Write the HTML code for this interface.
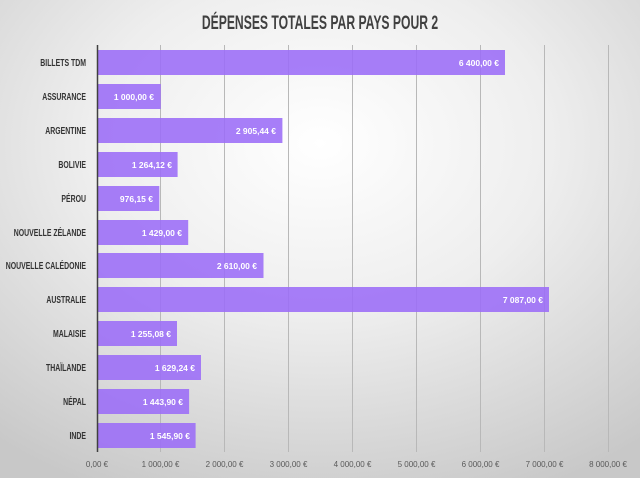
<!DOCTYPE html><html><head><meta charset="utf-8"><style>body{margin:0}svg{display:block}</style></head><body>
<svg width="640" height="478" xmlns="http://www.w3.org/2000/svg" font-family="Liberation Sans, sans-serif">
<defs><radialGradient id="g" cx="50%" cy="30%" r="80%"><stop offset="0" stop-color="#ffffff"/><stop offset="0.45" stop-color="#eeeeee"/><stop offset="1" stop-color="#c8c8c8"/></radialGradient></defs>
<rect width="640" height="478" fill="url(#g)"/>
<text x="0" y="29" text-anchor="middle" font-size="19" font-weight="bold" fill="#404040" transform="translate(320 0) scale(0.64 1)">DÉPENSES TOTALES PAR PAYS POUR 2</text>
<g stroke="#b8b8b8" stroke-width="1">
<line x1="160.5" y1="45" x2="160.5" y2="452"/><line x1="224.5" y1="45" x2="224.5" y2="452"/><line x1="288.5" y1="45" x2="288.5" y2="452"/><line x1="352.5" y1="45" x2="352.5" y2="452"/><line x1="416.5" y1="45" x2="416.5" y2="452"/><line x1="480.5" y1="45" x2="480.5" y2="452"/><line x1="544.5" y1="45" x2="544.5" y2="452"/><line x1="608.5" y1="45" x2="608.5" y2="452"/>
</g>
<g fill="#9b6cf7" fill-opacity="0.88">
<rect x="97" y="50" width="408" height="25"/>
<rect x="97" y="84" width="63.8" height="25"/>
<rect x="97" y="118" width="185.4" height="25"/>
<rect x="97" y="152" width="80.6" height="25"/>
<rect x="97" y="186" width="62.3" height="25"/>
<rect x="97" y="220" width="91.2" height="25"/>
<rect x="97" y="253" width="166.5" height="25"/>
<rect x="97" y="287" width="452" height="25"/>
<rect x="97" y="321" width="80" height="25"/>
<rect x="97" y="355" width="104" height="25"/>
<rect x="97" y="389" width="92.1" height="25"/>
<rect x="97" y="423" width="98.6" height="25"/>
</g>
<line x1="97.5" y1="45" x2="97.5" y2="452" stroke="#404040" stroke-width="1.5"/>
<g font-size="10.5" font-weight="bold" fill="#333" text-anchor="end" transform="translate(86 0) scale(0.66 1)">
<text x="0" y="66">BILLETS TDM</text><text x="0" y="100">ASSURANCE</text><text x="0" y="134">ARGENTINE</text><text x="0" y="168">BOLIVIE</text><text x="0" y="202">PÉROU</text><text x="0" y="236">NOUVELLE ZÉLANDE</text><text x="0" y="269">NOUVELLE CALÉDONIE</text><text x="0" y="303">AUSTRALIE</text><text x="0" y="337">MALAISIE</text><text x="0" y="371">THAÏLANDE</text><text x="0" y="405">NÉPAL</text><text x="0" y="439">INDE</text>
</g>
<g font-size="8.5" font-weight="bold" fill="#fff" text-anchor="end">
<text x="499" y="66">6 400,00 €</text><text x="154" y="100">1 000,00 €</text><text x="276" y="134">2 905,44 €</text><text x="172" y="168">1 264,12 €</text><text x="153" y="202">976,15 €</text><text x="182" y="236">1 429,00 €</text><text x="257" y="269">2 610,00 €</text><text x="543" y="303">7 087,00 €</text><text x="171" y="337">1 255,08 €</text><text x="195" y="371">1 629,24 €</text><text x="183" y="405">1 443,90 €</text><text x="190" y="439">1 545,90 €</text>
</g>
<g font-size="8" fill="#595959" text-anchor="middle">
<text x="97" y="467">0,00 €</text><text x="160.5" y="467">1 000,00 €</text><text x="224.5" y="467">2 000,00 €</text><text x="288.5" y="467">3 000,00 €</text><text x="352.5" y="467">4 000,00 €</text><text x="416.5" y="467">5 000,00 €</text><text x="480.5" y="467">6 000,00 €</text><text x="544.5" y="467">7 000,00 €</text><text x="608" y="467">8 000,00 €</text>
</g>
</svg></body></html>
